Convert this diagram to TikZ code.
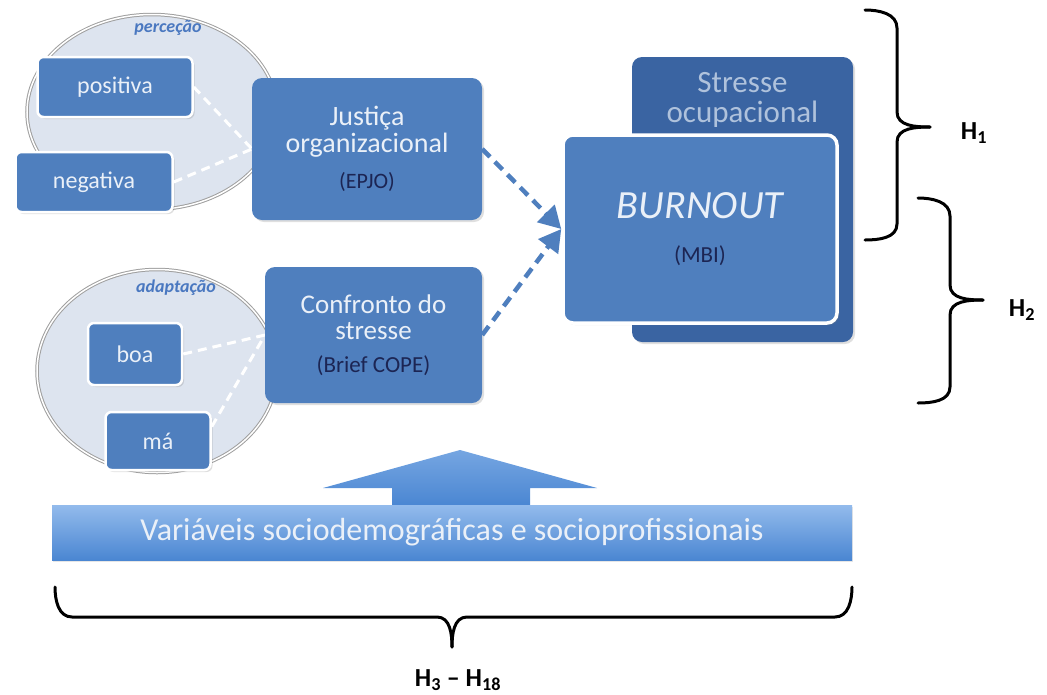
\documentclass[tikz,border=0pt]{standalone}
\usepackage{fontspec}
\setmainfont{Carlito}
\usetikzlibrary{arrows.meta,shapes.geometric,shadows,positioning}
\definecolor{boxblue}{HTML}{4F7FBE}
\definecolor{darkblue}{HTML}{3A64A2}
\definecolor{navy}{HTML}{1C2553}
\definecolor{paletext}{HTML}{EAF0F8}
\definecolor{greytext}{HTML}{AFC2DC}
\definecolor{ovalfill}{HTML}{DDE4EF}
\definecolor{labelblue}{HTML}{4A78C0}
\definecolor{bandtop}{HTML}{93BBEC}
\definecolor{bandbot}{HTML}{4A86D2}
\newcommand{\fs}[2]{\fontsize{#1}{#2}\selectfont}
\begin{document}
\begin{tikzpicture}[x=1pt,y=-1pt]
  \tikzstyle{oval}=[ellipse,draw=gray!75,double=white,double distance=1.5pt,line width=1pt,fill=ovalfill]
  \tikzstyle{ovallabel}=[font=\fs{18}{20}\bfseries\itshape,text=labelblue]
  \tikzstyle{item}=[rectangle,rounded corners=6pt,fill=boxblue,draw=white,line width=2.5pt,text=paletext,font=\fs{24}{26},drop shadow={opacity=0.25,shadow xshift=2pt,shadow yshift=-2pt}]
  \tikzstyle{construct}=[rectangle,rounded corners=10pt,fill=boxblue,text=paletext,align=center,drop shadow={opacity=0.25,shadow xshift=2pt,shadow yshift=-2pt}]
  \tikzstyle{link}=[draw=white,line width=3pt,dash pattern=on 9pt off 6pt]
  \tikzstyle{flow}=[draw=boxblue,line width=4.5pt,dash pattern=on 11pt off 7pt,-{Triangle[length=22pt,width=24pt]}]
  \tikzstyle{brace}=[draw=black,line width=3pt,line cap=round]
  \tikzstyle{hyp}=[font=\fs{26}{28}\bfseries]
  \useasboundingbox (0,0) rectangle (1047,694);
  % perception oval
  \node [oval,minimum width=250pt,minimum height=195pt] (perc) at (152,112) {};
  \node [ovallabel] (perclab) at (168,28) {perceção};
  \node [item,minimum width=155pt,minimum height=60pt] (pos) at (115,87) {positiva};
  \node [item,minimum width=157pt,minimum height=60pt] (neg) at (94,182) {negativa};
  % adaptation oval
  \node [oval,minimum width=240pt,minimum height=203pt] (adap) at (157,371) {};
  \node [ovallabel] (adaplab) at (176,288) {adaptação};
  \node [item,minimum width=94pt,minimum height=62pt] (boa) at (135,354) {boa};
  \node [item,minimum width=105pt,minimum height=58pt] (ma) at (158,441) {má};
  % dimensions to constructs
  \draw[link] (pos.east) -- (252,149);
  \draw[link] (neg.east) -- (252,149);
  \draw[link] (boa.east) -- (265,335);
  \draw[link] (ma.15) -- (265,335);
  \node [construct,font=\fs{28}{27},minimum width=230pt,minimum height=142pt] (just) at (367,149)
    {Justiça\\organizacional\\[9pt]{\fs{22}{24}\textcolor{navy}{(EPJO)}}};
  \node [construct,font=\fs{27}{26},minimum width=217pt,minimum height=136pt] (conf) at (373.5,335)
    {Confronto do\\stresse\\[7pt]{\fs{23}{24}\textcolor{navy}{(Brief COPE)}}};
  % outcome
  \node [construct,fill=darkblue,minimum width=221pt,minimum height=285pt,
    label={[anchor=north,yshift=-12pt,align=center,text=greytext,font=\fs{31}{30}]north:Stresse\\ocupacional}] (stress) at (742.5,199.5) {};
  \node [construct,draw=white,line width=3.5pt,font=\fs{40}{36},minimum width=274pt,minimum height=188pt] (burn) at (700,229)
    {\itshape BURNOUT\\[8pt]{\fs{23}{24}\textcolor{navy}{(MBI)}}};
  \draw[flow] (just.east) -- (burn.west);
  \draw[flow] (conf.east) -- (burn.west);
  % sociodemographic variables
  \shade[top color=bandtop!60!bandbot,bottom color=bandbot] (392,506) -- (392,488) -- (323,488) -- (460,450)
    -- (597,488) -- (530,488) -- (530,506) -- cycle;
  \node [rectangle,top color=bandtop,bottom color=bandbot,minimum width=800pt,minimum height=55pt,
    text=paletext,font=\fs{32}{34},drop shadow={opacity=0.2,shadow xshift=1pt,shadow yshift=-2pt}] (band) at (452,532.5)
    {Variáveis sociodemográficas e socioprofissionais};
  % hypotheses
  \draw[brace] (865,10) to[out=0,in=90] (897,28) -- (897,112) to[out=-90,in=180] (930,127);
  \draw[brace] (930,127) to[out=180,in=90] (897,142) -- (897,224) to[out=-90,in=0] (865,240);
  \node [hyp] (h1) at (974,133) {H\textsubscript{1}};
  \draw[brace] (918,198) to[out=0,in=90] (950,216) -- (950,285) to[out=-90,in=180] (983,300);
  \draw[brace] (983,300) to[out=180,in=90] (950,315) -- (950,387) to[out=-90,in=0] (918,403);
  \node [hyp] (h2) at (1022,310) {H\textsubscript{2}};
  \draw[brace] (55,587) to[out=-90,in=180] (72,617) -- (437,617) to[out=0,in=90] (452,647);
  \draw[brace] (452,647) to[out=90,in=180] (467,617) -- (835,617) to[out=0,in=-90] (852,587);
  \node [hyp] (h3) at (458,680) {H\textsubscript{3} – H\textsubscript{18}};
\end{tikzpicture}
\end{document}
